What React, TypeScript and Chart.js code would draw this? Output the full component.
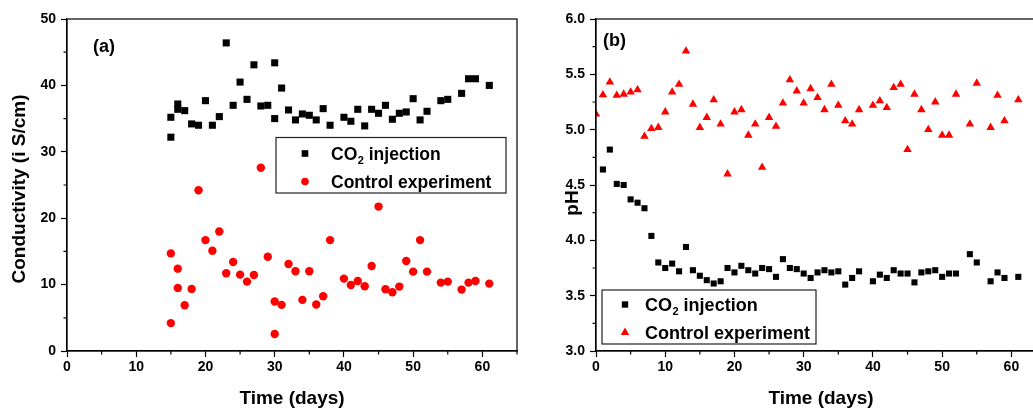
import React, { useEffect, useRef } from 'react';
import { Chart, registerables } from 'chart.js';
Chart.register(...registerables);

const FONT = "'Liberation Sans', Arial, Helvetica, sans-serif";

// ---------- Panel (a): conductivity ----------
const condDays = [15, 15, 16, 16, 17, 18, 19, 20, 21, 22, 23, 24, 25, 26, 27, 28, 29, 30, 30, 31, 32, 33, 34, 35, 36, 37, 38, 40, 41, 42, 43, 44, 45, 46, 47, 48, 49, 50, 51, 52, 54, 55, 57, 58, 59, 61];
const condCO2 = [35.2, 32.2, 37.2, 36.4, 36.2, 34.2, 34.0, 37.7, 34.0, 35.3, 46.4, 37.0, 40.5, 37.9, 43.1, 36.9, 37.0, 43.4, 35.0, 39.6, 36.3, 34.8, 35.7, 35.5, 34.8, 36.5, 34.0, 35.2, 34.6, 36.4, 33.9, 36.4, 35.8, 37.0, 34.9, 35.8, 36.0, 38.0, 34.8, 36.1, 37.7, 37.9, 38.8, 41.0, 41.0, 40.0];
const condControl = [14.7, 4.2, 12.4, 9.5, 6.9, 9.35, 24.2, 16.7, 15.1, 18.0, 11.7, 13.4, 11.5, 10.45, 11.45, 27.6, 14.2, 7.45, 2.55, 6.95, 13.1, 12.0, 7.7, 12.0, 7.0, 8.25, 16.7, 10.9, 9.95, 10.55, 9.75, 12.8, 21.75, 9.3, 8.85, 9.7, 13.55, 11.95, 16.7, 11.95, 10.3, 10.45, 9.25, 10.3, 10.55, 10.15];

// ---------- Panel (b): pH ----------
const phCO2Days = [1, 2, 3, 4, 5, 6, 7, 8, 9, 10, 11, 12, 13, 14, 15, 16, 17, 18, 19, 20, 21, 22, 23, 24, 25, 26, 27, 28, 29, 30, 31, 32, 33, 34, 35, 36, 37, 38, 40, 41, 42, 43, 44, 45, 46, 47, 48, 49, 50, 51, 52, 54, 55, 57, 58, 59, 61];
const phCO2 = [4.64, 4.82, 4.51, 4.50, 4.37, 4.34, 4.29, 4.04, 3.80, 3.75, 3.79, 3.72, 3.94, 3.73, 3.68, 3.64, 3.61, 3.63, 3.75, 3.71, 3.77, 3.73, 3.70, 3.75, 3.74, 3.67, 3.83, 3.75, 3.74, 3.70, 3.66, 3.71, 3.73, 3.71, 3.72, 3.60, 3.66, 3.72, 3.63, 3.69, 3.66, 3.73, 3.70, 3.70, 3.62, 3.71, 3.72, 3.73, 3.67, 3.70, 3.70, 3.875, 3.80, 3.63, 3.71, 3.66, 3.67];
const phControlDays = [0, 1, 2, 3, 4, 5, 6, 7, 8, 9, 10, 11, 12, 13, 14, 15, 16, 17, 18, 19, 20, 21, 22, 23, 24, 25, 26, 27, 28, 29, 30, 31, 32, 33, 34, 35, 36, 37, 38, 40, 41, 42, 43, 44, 45, 46, 47, 48, 49, 50, 51, 52, 54, 55, 57, 58, 59, 61];
const phControl = [5.14, 5.315, 5.43, 5.31, 5.32, 5.34, 5.36, 4.94, 5.01, 5.02, 5.16, 5.34, 5.41, 5.71, 5.23, 5.02, 5.11, 5.27, 5.05, 4.60, 5.16, 5.18, 4.95, 5.05, 4.66, 5.11, 5.03, 5.24, 5.45, 5.35, 5.24, 5.37, 5.29, 5.18, 5.41, 5.22, 5.08, 5.05, 5.18, 5.22, 5.26, 5.20, 5.38, 5.41, 4.82, 5.32, 5.18, 5.00, 5.25, 4.95, 4.95, 5.32, 5.05, 5.42, 5.02, 5.31, 5.08, 5.27];

// ---------- Ticks & labels ----------
const xMajorTicks = [0, 10, 20, 30, 40, 50, 60];
const xMinorTicks = [5, 15, 25, 35, 45, 55, 65];
const condMajorTicks = [0, 10, 20, 30, 40, 50];
const condMinorTicks = [5, 15, 25, 35, 45];
const phMajorTicks = [3.0, 3.5, 4.0, 4.5, 5.0, 5.5, 6.0];
const phMinorTicks = [3.25, 3.75, 4.25, 4.75, 5.25, 5.75];
const seriesNames = ['CO', ' injection', 'Control experiment'];
const xTitle = 'Time (days)';
const condTitle = 'Conductivity (i S/cm)';
const phTitle = 'pH';

const toPoints = (xs: number[], ys: number[]) => xs.map((x, i) => ({ x, y: ys[i] }));

function drawMarker(ctx: CanvasRenderingContext2D, kind: string, x: number, y: number, r: number, color: string) {
  ctx.save();
  ctx.fillStyle = color;
  ctx.beginPath();
  if (kind === 'rect') {
    const s = r * Math.SQRT1_2;
    ctx.rect(x - s, y - s, 2 * s, 2 * s);
  } else if (kind === 'circle') {
    ctx.arc(x, y, r, 0, Math.PI * 2);
  } else {
    ctx.moveTo(x, y - r);
    ctx.lineTo(x + r * Math.sin(Math.PI * 2 / 3), y + r / 2);
    ctx.lineTo(x - r * Math.sin(Math.PI * 2 / 3), y + r / 2);
    ctx.closePath();
  }
  ctx.fill();
  ctx.restore();
}

type Deco = {
  panel: string; panelX: number; panelY: number;
  yTitle: string; yTitleX: number; yTitleY: number;
  xMinor: number[]; yMinor: number[];
  legend: { x: number; y: number; w: number; h: number; mx: number; tx: number; rows: number[]; font: number; markers: { kind: string; color: string; r: number }[] };
};

function decoPlugin(d: Deco) {
  return {
    id: 'deco',
    afterDraw(chart: any) {
      const ctx: CanvasRenderingContext2D = chart.ctx;
      const a = chart.chartArea;
      const xs = chart.scales.x;
      const ys = chart.scales.y;
      ctx.save();
      ctx.strokeStyle = '#000';
      ctx.lineWidth = 1.2;
      // minor ticks
      ctx.beginPath();
      d.xMinor.forEach((v) => {
        const p = xs.getPixelForValue(v);
        ctx.moveTo(p, a.bottom);
        ctx.lineTo(p, a.bottom + 3.5);
      });
      d.yMinor.forEach((v) => {
        const p = ys.getPixelForValue(v);
        ctx.moveTo(a.left - 3.5, p);
        ctx.lineTo(a.left, p);
      });
      ctx.stroke();
      // frame
      ctx.strokeRect(a.left, a.top, a.right - a.left, a.bottom - a.top);
      // panel label
      ctx.fillStyle = '#000';
      ctx.font = `bold 18px ${FONT}`;
      ctx.textAlign = 'left';
      ctx.textBaseline = 'alphabetic';
      ctx.fillText(d.panel, d.panelX, d.panelY);
      // x title
      ctx.font = `bold 19px ${FONT}`;
      ctx.textAlign = 'center';
      ctx.fillText(xTitle, (a.left + a.right) / 2, 404);
      // y title
      ctx.save();
      ctx.translate(d.yTitleX, d.yTitleY);
      ctx.rotate(-Math.PI / 2);
      ctx.textBaseline = 'middle';
      ctx.fillText(d.yTitle, 0, 0);
      ctx.restore();
      // legend
      const L = d.legend;
      ctx.strokeStyle = '#222';
      ctx.lineWidth = 1.2;
      ctx.strokeRect(L.x, L.y, L.w, L.h);
      ctx.textAlign = 'left';
      ctx.textBaseline = 'alphabetic';
      L.rows.forEach((ry, i) => {
        const m = L.markers[i];
        drawMarker(ctx, m.kind, L.mx, ry - 6, m.r, m.color);
      });
      // row 1: CO2 injection with subscript
      ctx.fillStyle = '#000';
      ctx.font = `bold ${L.font}px ${FONT}`;
      let tx = L.tx;
      ctx.fillText(seriesNames[0], tx, L.rows[0]);
      tx += ctx.measureText(seriesNames[0]).width;
      ctx.font = `bold ${Math.round(L.font * 0.6)}px ${FONT}`;
      ctx.fillText('2', tx + 0.5, L.rows[0] + 4);
      tx += ctx.measureText('2').width + 0.5;
      ctx.font = `bold ${L.font}px ${FONT}`;
      ctx.fillText(seriesNames[1], tx, L.rows[0]);
      ctx.fillText(seriesNames[2], L.tx, L.rows[1]);
      ctx.restore();
    },
  };
}

function axisCommon(major: number[], fmt: (v: number) => string, isX: boolean, fixed: number) {
  return {
    type: 'linear',
    afterBuildTicks: (s: any) => { s.ticks = major.map((v) => ({ value: v })); },
    afterFit: (s: any) => { if (isX) s.height = fixed; else s.width = fixed; },
    ticks: {
      color: '#000',
      font: { family: FONT, size: 14, weight: 'bold' },
      padding: isX ? 2 : 5,
      autoSkip: false,
      maxRotation: 0,
      callback: (v: any) => fmt(Number(v)),
    },
    grid: { drawOnChartArea: false, drawTicks: true, tickLength: 6, tickWidth: 1.2, tickColor: '#000' },
    border: { display: true, color: '#000', width: 1.2 },
  };
}

export default function App() {
  const leftRef = useRef<HTMLCanvasElement>(null);
  const rightRef = useRef<HTMLCanvasElement>(null);

  useEffect(() => {
    const common = {
      responsive: false,
      animation: false,
      events: [],
      plugins: { legend: { display: false }, tooltip: { enabled: false } },
    };
    const left = new Chart(leftRef.current!, {
      type: 'scatter',
      data: {
        datasets: [
          { label: 'CO2 injection', data: toPoints(condDays, condCO2), pointStyle: 'rect', pointRadius: 5, backgroundColor: '#000', borderWidth: 0 },
          { label: 'Control experiment', data: toPoints(condDays, condControl), pointStyle: 'circle', pointRadius: 4.2, backgroundColor: '#ff0000', borderWidth: 0 },
        ],
      },
      options: {
        ...common,
        layout: { padding: { left: 0, right: 23, top: 19, bottom: 0 } },
        scales: {
          x: { ...axisCommon(xMajorTicks, (v) => String(v), true, 58), min: 0, max: 65 },
          y: { ...axisCommon(condMajorTicks, (v) => String(v), false, 67), min: 0, max: 50 },
        },
      } as any,
      plugins: [decoPlugin({
        panel: '(a)', panelX: 93, panelY: 52,
        yTitle: condTitle, yTitleX: 20, yTitleY: 189,
        xMinor: xMinorTicks, yMinor: condMinorTicks,
        legend: {
          x: 276, y: 137.5, w: 230, h: 55.5, mx: 305, tx: 331, rows: [159.5, 187.5], font: 17.5,
          markers: [{ kind: 'rect', color: '#000', r: 4.7 }, { kind: 'circle', color: '#ff0000', r: 3.8 }],
        },
      })],
    } as any);

    const right = new Chart(rightRef.current!, {
      type: 'scatter',
      data: {
        datasets: [
          { label: 'CO2 injection', data: toPoints(phCO2Days, phCO2), pointStyle: 'rect', pointRadius: 4.3, backgroundColor: '#000', borderWidth: 0 },
          { label: 'Control experiment', data: toPoints(phControlDays, phControl), pointStyle: 'triangle', pointRadius: 4.9, backgroundColor: '#ff0000', borderWidth: 0 },
        ],
      },
      options: {
        ...common,
        layout: { padding: { left: 0, right: 14, top: 19, bottom: 0 } },
        scales: {
          x: { ...axisCommon(xMajorTicks, (v) => String(v), true, 58), min: 0, max: 65 },
          y: { ...axisCommon(phMajorTicks, (v) => v.toFixed(1), false, 56), min: 3, max: 6 },
        },
      } as any,
      plugins: [decoPlugin({
        panel: '(b)', panelX: 63, panelY: 46,
        yTitle: phTitle, yTitleX: 33, yTitleY: 203,
        xMinor: xMinorTicks, yMinor: phMinorTicks,
        legend: {
          x: 62, y: 290, w: 214, h: 54, mx: 85, tx: 105, rows: [310.5, 338.5], font: 18,
          markers: [{ kind: 'rect', color: '#000', r: 4.5 }, { kind: 'triangle', color: '#ff0000', r: 4.9 }],
        },
      })],
    } as any);

    return () => { left.destroy(); right.destroy(); };
  }, []);

  return (
    <div style={{ position: 'fixed', left: 0, top: 0, width: 1033, height: 409, overflow: 'hidden', background: '#fff' }}>
      <canvas ref={leftRef} width={540} height={409} style={{ position: 'absolute', left: 0, top: 0, display: 'block' }} />
      <canvas ref={rightRef} width={520} height={409} style={{ position: 'absolute', left: 540, top: 0, display: 'block' }} />
    </div>
  );
}
